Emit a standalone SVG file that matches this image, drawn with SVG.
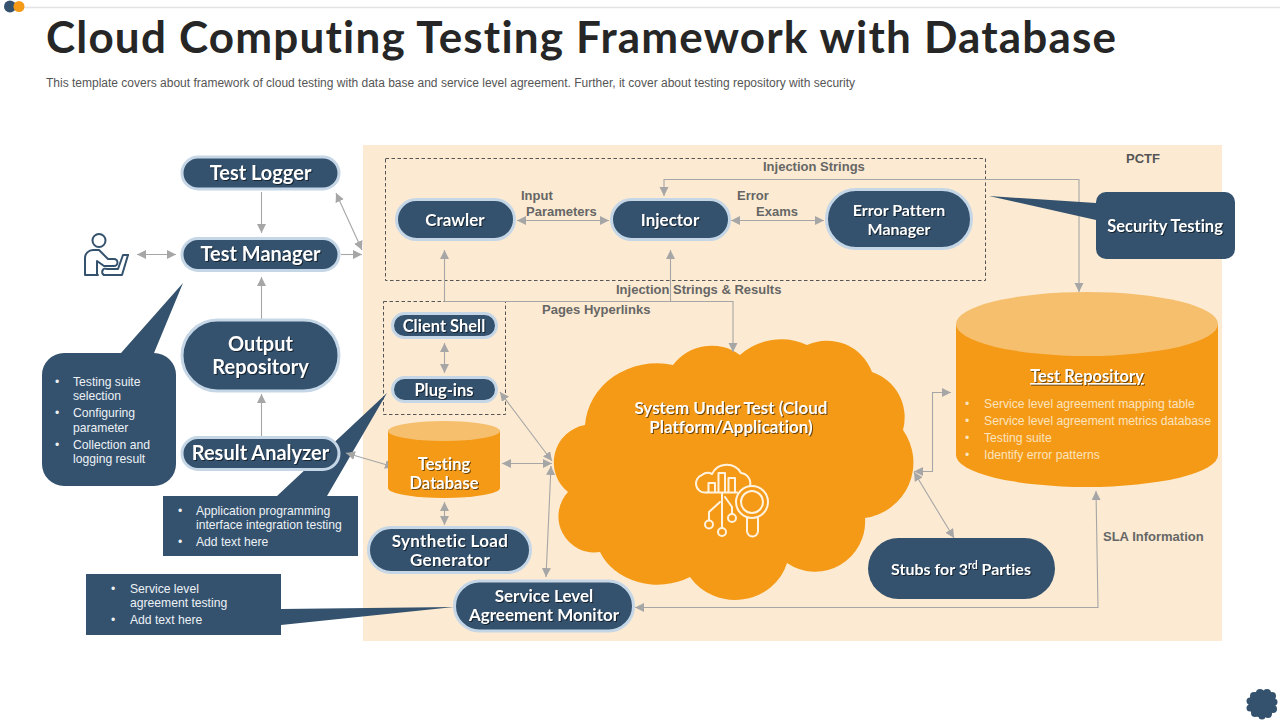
<svg xmlns="http://www.w3.org/2000/svg" width="1280" height="720" viewBox="0 0 1280 720">
<style>
text{font-variant-ligatures:none}
.pill{fill:#34526E;stroke:#C5D6E6;stroke-width:3}
.dark{fill:#34526E}
.or{fill:#F59A17}
.orl{fill:#F6BF6E}
.n{font-family:"Lato","Liberation Sans",sans-serif;font-weight:700;fill:#fff;text-anchor:middle;filter:drop-shadow(1px 1px .6px rgba(0,0,0,.55))}
.b{font-family:"Liberation Sans",Arial,sans-serif;font-size:12.150px;fill:#EDF1F5}
.bo{font-family:"Liberation Sans",Arial,sans-serif;font-size:12.200px;fill:#FBE3BE}
.l{font-family:"Liberation Sans",Arial,sans-serif;font-weight:700;font-size:13px;fill:#666}
.c{fill:none;stroke:#A6A6A6;stroke-width:1.100}
.d{fill:none;stroke:#555;stroke-width:1;stroke-dasharray:3.500 2.500}
.ic{fill:none;stroke-width:2;stroke-linecap:round;stroke-linejoin:round}
</style>
<defs>
<marker id="a" markerUnits="userSpaceOnUse" markerWidth="11" markerHeight="10" refX="9" refY="4.500" orient="auto-start-reverse"><path d="M0 0L9 4.500L0 9Z" fill="#A6A6A6"/></marker>
</defs>
<rect width="1280" height="720" fill="#fff"/>
<path d="M24 7.500H1280" stroke="#E3E3E3" stroke-width="1.500"/>
<circle cx="10" cy="6.500" r="6" fill="#34526E"/>
<circle cx="19" cy="6.500" r="5.500" fill="#F59A17"/>
<g id="corner-cloud" fill="#34526E"><circle cx="1262" cy="704" r="13.500"/><circle cx="1254" cy="696" r="4"/><circle cx="1260" cy="693" r="4"/><circle cx="1267" cy="693" r="4"/><circle cx="1272" cy="696" r="4"/><circle cx="1274" cy="702" r="3.500"/><circle cx="1273" cy="709" r="4"/><circle cx="1268" cy="714" r="4"/><circle cx="1262" cy="716" r="3.500"/><circle cx="1255" cy="713" r="4"/><circle cx="1250" cy="708" r="3.500"/><circle cx="1250" cy="701" r="3.500"/></g>

<text x="46" y="53" font-family="'Lato','Liberation Sans',sans-serif" font-weight="700" font-size="44" textLength="1070" lengthAdjust="spacing" fill="#262626">Cloud Computing Testing Framework with Database</text>
<text x="46" y="87" font-family="'Liberation Sans',Arial,sans-serif" font-size="12" fill="#555">This template covers about framework of cloud testing with data base and service level agreement. Further, it cover about testing repository with security</text>

<rect id="panel" x="363" y="145" width="859" height="496" fill="#FCEBD2"/>
<text x="1126" y="163" font-family="'Liberation Sans',Arial,sans-serif" font-weight="700" font-size="13" fill="#555">PCTF</text>
<rect x="385.500" y="158.500" width="600" height="122" class="d"/>
<rect x="383.500" y="301.500" width="122" height="113" class="d"/>

<g id="bubble-api"><path class="dark" d="M163 496H277L387 393L327 496H358V556H163Z"/>
<text class="b" x="178" y="515">•</text><text class="b" x="196" y="515">Application programming</text><text class="b" x="196" y="529">interface integration testing</text>
<text class="b" x="178" y="546">•</text><text class="b" x="196" y="546">Add text here</text></g>

<g id="cloud">
<path class="or" d="M568 492A38 38 0 0 1 585 425A72 66 0 0 1 673 365A48 48 0 0 1 740 355A62 62 0 0 1 807 345A48 48 0 0 1 872 372A48 48 0 0 1 903 430A56 56 0 0 1 865 518A50 50 0 0 1 787 563A54 51 0 0 1 690 577A62 52 0 0 1 600 552A36 36 0 0 1 568 492Z"/>
<text class="n" font-size="17" x="731" y="414">System Under Test (Cloud</text>
<text class="n" font-size="17" x="731" y="433">Platform/Application)</text>
<g id="cloud-icon" class="ic" stroke="#FFF3DF">
<path d="M707 492.500H705A9 9 0 0 1 702 475A9 9 0 0 1 712 474A16.500 16.500 0 0 1 741 473A10.500 10.500 0 0 1 750 486"/>
<path d="M707 492.500H737M708.500 492V483H715V492M718.500 492V473H725V492M728.500 492V478H735V492"/>
<path d="M722 493V527M720 502L709 512V520M725 497L732 507V514"/>
<circle cx="709" cy="524.500" r="4"/><circle cx="722" cy="532" r="4"/><circle cx="732" cy="518" r="4"/>
<circle cx="752" cy="502" r="16"/><circle cx="752" cy="502" r="11"/>
<path d="M747 518V531A5.500 5.500 0 0 0 758 531V518"/>
</g>
</g>

<g id="connectors">
<path class="c" marker-end="url(#a)" d="M261.500 192V233"/>
<path class="c" marker-start="url(#a)" marker-end="url(#a)" d="M137 254.500H176"/>
<path class="c" marker-end="url(#a)" d="M341 254.500H362"/>
<path class="c" marker-start="url(#a)" marker-end="url(#a)" d="M336 193L362 250"/>
<path class="c" marker-end="url(#a)" d="M261.500 319V277"/>
<path class="c" marker-end="url(#a)" d="M261.500 436V394"/>
<path class="c" marker-start="url(#a)" marker-end="url(#a)" d="M346 453L394 467"/>
<path class="c" marker-start="url(#a)" marker-end="url(#a)" d="M517 220.500H609"/>
<path class="c" marker-start="url(#a)" marker-end="url(#a)" d="M731 220.500H824"/>
<path class="c" marker-start="url(#a)" marker-end="url(#a)" d="M664 196V179.500H1079V292"/>
<path class="c" marker-end="url(#a)" d="M444.500 301.500V250"/>
<path class="c" marker-end="url(#a)" d="M444.500 301.500H733V352"/>
<path class="c" marker-end="url(#a)" d="M670.500 301.500V250"/>
<path class="c" marker-start="url(#a)" marker-end="url(#a)" d="M444.500 343V373"/>
<path class="c" marker-start="url(#a)" marker-end="url(#a)" d="M500 392L552 461"/>
<path class="c" marker-start="url(#a)" marker-end="url(#a)" d="M502 463.500H552"/>
<path class="c" marker-start="url(#a)" marker-end="url(#a)" d="M444.500 502V525"/>
<path class="c" marker-start="url(#a)" marker-end="url(#a)" d="M551 466L546 577"/>
<path class="c" marker-start="url(#a)" marker-end="url(#a)" d="M914 471.500H932.500V392.500H951"/>
<path class="c" marker-start="url(#a)" marker-end="url(#a)" d="M914 472L954 538"/>
<path class="c" marker-start="url(#a)" marker-end="url(#a)" d="M635 607.500H1098L1096 491"/>
</g>

<text class="l" x="521" y="200">Input</text>
<text class="l" x="526" y="216">Parameters</text>
<text class="l" x="737" y="200">Error</text>
<text class="l" x="756" y="216">Exams</text>
<text class="l" x="763" y="171">Injection Strings</text>
<text class="l" x="616" y="294">Injection Strings &amp; Results</text>
<text class="l" x="542" y="314">Pages Hyperlinks</text>
<text class="l" x="1103" y="541">SLA Information</text>

<g id="person" class="ic" stroke="#34526E" stroke-width="1.600">
<circle cx="99" cy="240.500" r="6.500"/>
<path d="M98 275H85V258A8 8 0 0 1 93 250H99L108 259H114A3.500 3.500 0 0 1 114 266H104L97 261V275"/>
<path d="M104 275H122L128 255"/><path d="M128 255H123L118 269H107A3 3 0 0 0 104 275"/>
</g>

<g id="bubble-manager"><path class="dark" d="M121 353L183 283L154 353H154A22 22 0 0 1 176 375V464A22 22 0 0 1 154 486H64A22 22 0 0 1 42 464V375A22 22 0 0 1 64 353Z"/>
<text class="b" x="55" y="386">•</text><text class="b" x="73" y="386">Testing suite</text><text class="b" x="73" y="400">selection</text>
<text class="b" x="55" y="417">•</text><text class="b" x="73" y="417">Configuring</text><text class="b" x="73" y="432">parameter</text>
<text class="b" x="55" y="449">•</text><text class="b" x="73" y="449">Collection and</text><text class="b" x="73" y="463">logging result</text></g>

<g id="test-logger"><rect class="pill" x="182" y="157" width="157" height="32" rx="16"/><text class="n" font-size="20" x="260.500" y="180">Test Logger</text></g>
<g id="test-manager"><rect class="pill" x="182" y="238.500" width="157" height="32" rx="16"/><text class="n" font-size="20" x="260.500" y="261">Test Manager</text></g>
<g id="output-repository"><rect class="pill" x="182" y="320" width="157" height="71" rx="35.500"/><text class="n" font-size="20" x="260.500" y="351">Output</text><text class="n" font-size="20" x="260.500" y="374">Repository</text></g>
<g id="result-analyzer"><rect class="pill" x="182" y="437.500" width="157" height="32" rx="16"/><text class="n" font-size="20" x="260.500" y="460">Result Analyzer</text></g>

<g id="crawler"><rect class="pill" x="396.500" y="199.500" width="118" height="40" rx="20"/><text class="n" font-size="17" x="455" y="226">Crawler</text></g>
<g id="injector"><rect class="pill" x="611.500" y="199.500" width="118" height="40" rx="20"/><text class="n" font-size="17" x="670" y="226">Injector</text></g>
<g id="error-pattern-manager"><rect class="pill" x="826.500" y="189.500" width="145" height="59" rx="29.500"/><text class="n" font-size="16" x="899" y="216">Error Pattern</text><text class="n" font-size="16" x="899" y="235">Manager</text></g>
<g id="client-shell"><rect class="pill" x="392.500" y="313.500" width="104" height="24" rx="12"/><text class="n" font-size="16.500" x="444" y="332">Client Shell</text></g>
<g id="plug-ins"><rect class="pill" x="392.500" y="377.500" width="104" height="24" rx="12"/><text class="n" font-size="16.500" x="444" y="396">Plug-ins</text></g>

<g id="testing-database">
<path class="or" d="M388 431V488A56 10 0 0 0 500 488V431Z"/><ellipse class="orl" cx="444" cy="431" rx="56" ry="10"/>
<text class="n" font-size="16.500" x="444" y="470">Testing</text><text class="n" font-size="16.500" x="444" y="489">Database</text></g>
<g id="synthetic-load-generator"><rect class="pill" x="368.500" y="527.500" width="162" height="45" rx="22.500"/><text class="n" font-size="17" letter-spacing=".35" x="450" y="547">Synthetic Load</text><text class="n" font-size="17" letter-spacing=".35" x="450" y="566">Generator</text></g>
<g id="service-level-agreement-monitor"><rect class="pill" x="454.500" y="581" width="179" height="50" rx="25"/><text class="n" font-size="17" x="544" y="602">Service Level</text><text class="n" font-size="17" x="544" y="621">Agreement Monitor</text></g>
<g id="stubs"><rect class="dark" x="868" y="538" width="187" height="61" rx="30.500"/><text class="n" font-size="16" x="961" y="575">Stubs for 3<tspan font-size="10.500" dy="-6">rd</tspan><tspan dy="6"> Parties</tspan></text></g>

<g id="security-testing"><path class="dark" d="M989 196L1096 203V202A10 10 0 0 1 1106 192H1225A10 10 0 0 1 1235 202V249A10 10 0 0 1 1225 259H1106A10 10 0 0 1 1096 249V220Z"/><text class="n" font-size="16.500" x="1165" y="232">Security Testing</text></g>

<g id="test-repository">
<path class="or" d="M956 325V455A131 32 0 0 0 1218 455V325Z"/><ellipse class="orl" cx="1087" cy="324" rx="131" ry="32"/>
<text class="n" font-size="16.500" x="1087" y="382" text-decoration="underline">Test Repository</text>
<text class="bo" x="965" y="408">•</text><text class="bo" x="984" y="408">Service level agreement mapping table</text>
<text class="bo" x="965" y="425">•</text><text class="bo" x="984" y="425">Service level agreement metrics database</text>
<text class="bo" x="965" y="442">•</text><text class="bo" x="984" y="442">Testing suite</text>
<text class="bo" x="965" y="459">•</text><text class="bo" x="984" y="459">Identify error patterns</text></g>

<g id="bubble-sla"><path class="dark" d="M86 574H281V609L454 607L281 625V635H86Z"/>
<text class="b" x="111" y="593">•</text><text class="b" x="130" y="593">Service level</text><text class="b" x="130" y="607">agreement testing</text>
<text class="b" x="111" y="624">•</text><text class="b" x="130" y="624">Add text here</text></g>
</svg>
